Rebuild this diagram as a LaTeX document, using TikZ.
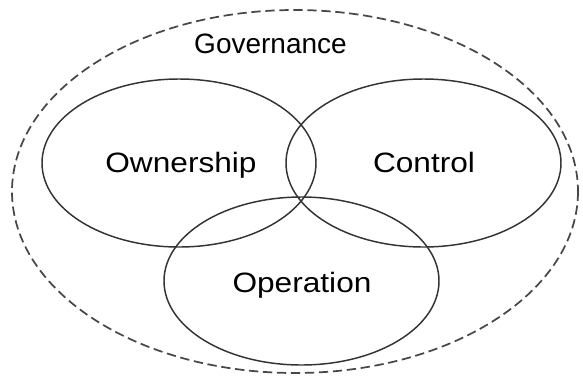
\documentclass[tikz,border=0pt]{standalone}
\usepackage{fontspec}
\setmainfont{Liberation Sans}
\begin{document}
\begin{tikzpicture}[x=0.75pt,y=-0.75pt,
  setring/.style={draw=black!80, line width=1.1pt},
  scopering/.style={draw=black!72, line width=1.3pt, dash pattern=on 7pt off 3.5pt},
  setlabel/.style={anchor=base, inner sep=0pt, font=\fontsize{21}{25}\selectfont, xscale=1.13},
  scopelabel/.style={anchor=base, inner sep=0pt, font=\fontsize{21}{25}\selectfont}]
  \useasboundingbox (0,0) rectangle (583,376);
  % outer governance boundary
  \draw[scopering] (295,191.5) ellipse [x radius=283, y radius=181.5];
  % three overlapping sets
  \draw[setring] (179,163) ellipse [x radius=137, y radius=84];
  \draw[setring] (423.5,163) ellipse [x radius=137.5, y radius=84];
  \draw[setring] (301.5,281) ellipse [x radius=137.5, y radius=84];
  % labels
  \node[scopelabel] (gov) at (270.5,53) {Governance};
  \node[setlabel] (own) at (181,172) {Ownership};
  \node[setlabel] (ctl) at (424,172) {Control};
  \node[setlabel] (ops) at (302,292) {Operation};
\end{tikzpicture}
\end{document}
